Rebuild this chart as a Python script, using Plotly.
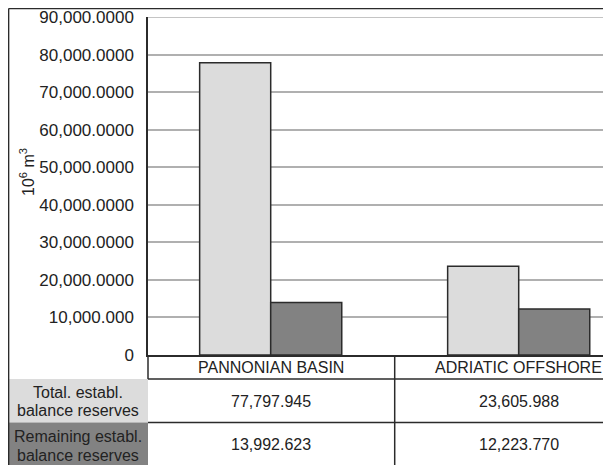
import plotly.graph_objects as go

categories = ["PANNONIAN BASIN", "ADRIATIC OFFSHORE"]
total_reserves = [77797.945, 23605.988]
remaining_reserves = [13992.623, 12223.770]
series_lines = [["Total. establ.", "balance reserves"], ["Remaining establ.", "balance reserves"]]
tick_values = [0, 10000, 20000, 30000, 40000, 50000, 60000, 70000, 80000, 90000]
tick_labels = ["0", "10,000.000", "20,000.0000", "30,000.0000", "40,000.0000",
               "50,000.0000", "60,000.0000", "70,000.0000", "80,000.0000", "90,000.0000"]

OFF = 8  # page body margin
W, H = 611 - OFF, 465 - OFF
# page-pixel positions of plot area
PL, PT, PB, PR = 148, 17, 355, 611
L, T = PL - OFF, PT - OFF
R = 0
B = H - (PB - OFF)
PW, PH = W - L - R, H - T - B

def px(x):
    return (x - OFF - L) / PW

def py(y):
    return (PB - y) / PH

LIGHT = "#dcdcdc"
DARK = "#828282"
EDGE = "#2b2b2b"
FONT = "Liberation Sans, Arial, sans-serif"
TXT = "#222222"

fig = go.Figure()
fig.add_trace(go.Bar(x=categories, y=total_reserves, name="Total",
                     marker=dict(color=LIGHT, line=dict(color=EDGE, width=1.5))))
fig.add_trace(go.Bar(x=categories, y=remaining_reserves, name="Remaining",
                     marker=dict(color=DARK, line=dict(color=EDGE, width=1.5))))

fig.update_layout(
    width=W, height=H,
    margin=dict(l=L, r=R, t=T, b=B, pad=0),
    paper_bgcolor="white", plot_bgcolor="white",
    showlegend=False,
    barmode="group", bargap=0.427, bargroupgap=0,
    font=dict(family=FONT, color=TXT, size=16),
)
fig.update_xaxes(range=[-0.5 + 1.3 / 248.0, -0.5 + (PW + 1.3) / 248.0], showticklabels=False, ticks="",
                 showgrid=False, showline=True, linecolor=EDGE, linewidth=1.5,
                 zeroline=False)
fig.update_yaxes(range=[0, 90000], tickvals=tick_values, ticktext=tick_labels,
                 tickfont=dict(size=17, color=TXT, family=FONT),
                 ticklabelstandoff=9, ticks="", ticklabeloverflow="allow",
                 showgrid=True, gridcolor="#b0b0b0", gridwidth=1.5,
                 showline=True, linecolor=EDGE, linewidth=1.5, zeroline=False)

shapes = []
shapes.append(dict(type="rect", xref="paper", yref="paper", x0=px(8), x1=px(148),
                   y0=py(379), y1=py(422.5), fillcolor=LIGHT, line=dict(width=0), layer="below"))
shapes.append(dict(type="rect", xref="paper", yref="paper", x0=px(8), x1=px(148),
                   y0=py(422.5), y1=py(480), fillcolor=DARK, line=dict(width=0), layer="below"))
line_style = dict(color=EDGE, width=1.5)
shapes.append(dict(type="line", xref="paper", yref="paper", x0=px(148), x1=px(148),
                   y0=py(355), y1=py(379), line=line_style))
shapes.append(dict(type="line", xref="paper", yref="paper", x0=px(148), x1=1.02,
                   y0=py(379), y1=py(379), line=line_style))
shapes.append(dict(type="line", xref="paper", yref="paper", x0=px(148), x1=1.02,
                   y0=py(422.5), y1=py(422.5), line=line_style))
shapes.append(dict(type="line", xref="x", yref="paper", x0=0.5, x1=0.5,
                   y0=py(355), y1=py(480), line=line_style))
# top gridline (90,000) drawn explicitly in case the edge gridline is suppressed
shapes.append(dict(type="line", xref="paper", yref="y", x0=0, x1=1.02,
                   y0=tick_values[-1], y1=tick_values[-1],
                   line=dict(color="#b0b0b0", width=1.5), layer="below"))
# outer border
shapes.append(dict(type="line", xref="paper", yref="paper", x0=px(8.6), x1=px(8.6),
                   y0=py(8.6), y1=py(480), line=line_style))
shapes.append(dict(type="line", xref="paper", yref="paper", x0=px(8.6), x1=1.02,
                   y0=py(8.6), y1=py(8.6), line=line_style))
fig.update_layout(shapes=shapes)

ann = []
for i, c in enumerate(categories):
    ann.append(dict(x=c, xref="x", y=py(367), yref="paper", text=c, showarrow=False,
                    font=dict(size=16, color=TXT), xanchor="center", yanchor="middle"))
    ann.append(dict(x=c, xref="x", y=py(401), yref="paper", text=f"{total_reserves[i]:,.3f}",
                    showarrow=False, font=dict(size=16, color=TXT), xanchor="center", yanchor="middle"))
    ann.append(dict(x=c, xref="x", y=py(444), yref="paper", text=f"{remaining_reserves[i]:,.3f}",
                    showarrow=False, font=dict(size=16, color=TXT), xanchor="center", yanchor="middle"))
row_centers = [[392, 410], [437, 455]]
for lines, ys in zip(series_lines, row_centers):
    for t, yc in zip(lines, ys):
        ann.append(dict(x=px(78), xref="paper", y=py(yc), yref="paper", text=t,
                        showarrow=False, font=dict(size=16, color=TXT),
                        xanchor="center", yanchor="middle"))
ann.append(dict(x=px(27), xref="paper", y=py(172), yref="paper",
                text="10<sup>6</sup> m<sup>3</sup>", textangle=-90, showarrow=False,
                font=dict(size=16, color=TXT), xanchor="center", yanchor="middle"))
fig.update_layout(annotations=ann)

fig.write_html("out.html")
